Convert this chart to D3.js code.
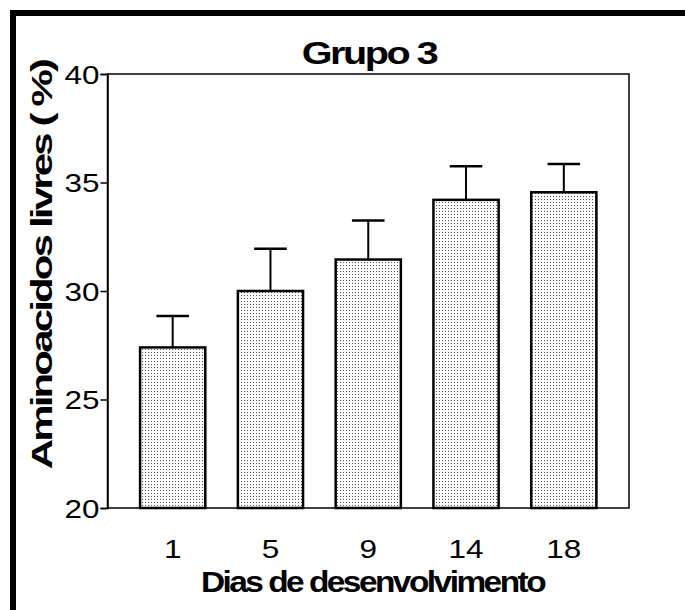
<!DOCTYPE html>
<html>
<head>
<meta charset="utf-8">
<script src="https://cdn.jsdelivr.net/npm/d3@7"></script>
<style>
  html, body { margin: 0; padding: 0; background: #fff; }
  svg { display: block; }
  text { font-family: "Liberation Sans", Arial, sans-serif; fill: #000; }
</style>
</head>
<body>
<script>
// Free amino acids by day of development (group 3), mean with upper error
const days = ["1", "5", "9", "14", "18"];
const means = [27.4, 30.0, 31.45, 34.2, 34.55];
const errors = [1.45, 1.95, 1.8, 1.55, 1.3];
const yTicks = [20, 25, 30, 35, 40];

const W = 685, H = 610;
const margin = { left: 107.5, right: 56, top: 74, bottom: 102 };

const svg = d3.select("body").append("svg")
  .attr("width", W).attr("height", H);

// stipple fill for the bars
const defs = svg.append("defs");
const pat = defs.append("pattern")
  .attr("id", "stipple")
  .attr("patternUnits", "userSpaceOnUse")
  .attr("width", 3).attr("height", 3);
pat.append("rect").attr("width", 3).attr("height", 3).attr("fill", "#fff");
pat.append("rect").attr("x", 1).attr("y", 1).attr("width", 1).attr("height", 1).attr("fill", "#555");

// heavy frame on the left and top edges
svg.append("rect").attr("x", 10).attr("y", 10).attr("width", 6).attr("height", H - 10).attr("fill", "#000");
svg.append("rect").attr("x", 10).attr("y", 10).attr("width", W - 10).attr("height", 6).attr("fill", "#000");

const x = d3.scaleBand()
  .domain(days)
  .range([margin.left, W - margin.right])
  .padding(1 / 3);

const y = d3.scaleLinear()
  .domain([20, 40])
  .range([H - margin.bottom, margin.top]);

const plot = svg.append("g");

// plot box
plot.append("rect")
  .attr("x", margin.left).attr("y", margin.top)
  .attr("width", W - margin.right - margin.left)
  .attr("height", H - margin.bottom - margin.top)
  .attr("fill", "none").attr("stroke", "#000").attr("stroke-width", 1.5);

// wide-set digits for the tick labels
function wideDigits(sel) {
  sel.style("font-size", "25px")
    .attr("textLength", function () { return this.textContent.length * 17.5; })
    .attr("lengthAdjust", "spacingAndGlyphs");
}

// y axis
const yAxis = svg.append("g")
  .attr("transform", `translate(${margin.left},0)`)
  .call(d3.axisLeft(y).tickValues(yTicks).tickSize(7).tickPadding(1));
yAxis.select(".domain").attr("stroke-width", 1.5);
yAxis.selectAll(".tick line").attr("stroke-width", 1.5);
yAxis.selectAll(".tick text").call(wideDigits).attr("dy", "0.36em");

// x axis labels (no ticks)
const xAxis = svg.append("g")
  .attr("transform", `translate(0,${H - margin.bottom})`)
  .call(d3.axisBottom(x).tickSize(0).tickPadding(32));
xAxis.select(".domain").remove();
xAxis.selectAll(".tick text").call(wideDigits).attr("dy", "0.71em");

const data = days.map((d, i) => ({ day: d, mean: means[i], err: errors[i] }));

// error bars (upper only)
const eb = plot.selectAll(".err").data(data).enter().append("g");
eb.append("line")
  .attr("x1", d => x(d.day) + x.bandwidth() / 2)
  .attr("x2", d => x(d.day) + x.bandwidth() / 2)
  .attr("y1", d => y(d.mean))
  .attr("y2", d => y(d.mean + d.err))
  .attr("stroke", "#000").attr("stroke-width", 2);
eb.append("line")
  .attr("x1", d => x(d.day) + x.bandwidth() / 4)
  .attr("x2", d => x(d.day) + x.bandwidth() * 3 / 4)
  .attr("y1", d => y(d.mean + d.err))
  .attr("y2", d => y(d.mean + d.err))
  .attr("stroke", "#000").attr("stroke-width", 2.5);

// bars
plot.selectAll(".bar").data(data).enter().append("rect")
  .attr("x", d => x(d.day))
  .attr("y", d => y(d.mean))
  .attr("width", x.bandwidth())
  .attr("height", d => y(20) - y(d.mean))
  .attr("fill", "url(#stipple)")
  .attr("stroke", "#000").attr("stroke-width", 2.5);

// bold label set tight, then stretched along its run to the wanted length
function boldLabel(txt, cx, cy, size, spacing, length, angle) {
  const g = svg.append("g").attr("transform", `translate(${cx},${cy}) rotate(${angle})`);
  const t = g.append("text")
    .attr("text-anchor", "middle")
    .style("font-size", size + "px").style("font-weight", "bold")
    .attr("letter-spacing", spacing)
    .text(txt);
  const w = t.node().getBBox().width;
  t.attr("transform", `scale(${length / w},1)`);
  return t;
}

boldLabel("Grupo 3", 369, 64, 32, -2, 136, 0);
boldLabel("Dias de desenvolvimento", 372.5, 592, 29, -2.2, 345, 0);
boldLabel("Aminoacidos livres ( %)", 52, 265, 30, -2, 410, -90);
</script>
</body>
</html>
